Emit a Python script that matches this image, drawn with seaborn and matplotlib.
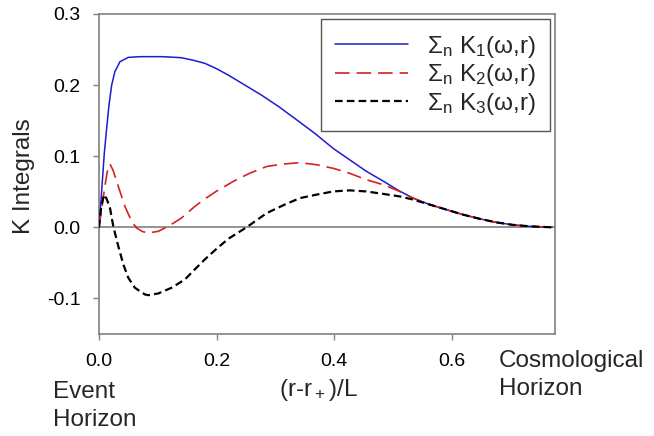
import matplotlib
matplotlib.use("Agg")
import matplotlib.pyplot as plt
import seaborn as sns

# Radial coordinate (r - r+)/L and the summed K integrals
k1_x = [0, 0.004, 0.009, 0.013, 0.017, 0.0215, 0.027, 0.0357, 0.0498, 0.07, 0.09,
        0.106, 0.12, 0.14, 0.16, 0.18, 0.2, 0.22, 0.25, 0.276, 0.305, 0.333, 0.367,
        0.398, 0.426, 0.454, 0.483, 0.511, 0.534, 0.562, 0.59, 0.618, 0.647, 0.675,
        0.703, 0.732, 0.77]
k1_y = [0, 0.045, 0.104, 0.139, 0.172, 0.200, 0.219, 0.233, 0.239, 0.240, 0.240,
        0.240, 0.2395, 0.2385, 0.235, 0.2306, 0.223, 0.214, 0.199, 0.186, 0.170, 0.153,
        0.132, 0.111, 0.095, 0.079, 0.065, 0.051, 0.041, 0.032, 0.025, 0.018, 0.012,
        0.007, 0.0035, 0.0014, 0]

k2_x = [0, 0.005, 0.010, 0.014, 0.0187, 0.024, 0.0328, 0.044, 0.0555, 0.064, 0.074,
        0.084, 0.1007, 0.1177, 0.14, 0.163, 0.18, 0.2, 0.228, 0.256, 0.285, 0.313,
        0.341, 0.37, 0.398, 0.426, 0.454, 0.483, 0.511, 0.534, 0.562, 0.59, 0.618,
        0.647, 0.675, 0.703, 0.732, 0.77]
k2_y = [0, 0.028, 0.058, 0.078, 0.089, 0.080, 0.0575, 0.0295, 0.0084, -0.001, -0.006,
        -0.0079, -0.0056, 0.0014, 0.013, 0.0295, 0.040, 0.051, 0.0645, 0.076, 0.0856, 0.089,
        0.091, 0.088, 0.083, 0.076, 0.067, 0.060, 0.0505, 0.041, 0.032, 0.025, 0.018,
        0.012, 0.007, 0.0035, 0.0014, 0]

k3_x = [0, 0.004, 0.0085, 0.013, 0.0187, 0.0243, 0.0328, 0.0413, 0.0498, 0.061, 0.078,
        0.084, 0.1007, 0.1233, 0.146, 0.163, 0.18, 0.2, 0.22, 0.2507, 0.285, 0.313,
        0.341, 0.37, 0.398, 0.426, 0.454, 0.483, 0.511, 0.534, 0.562, 0.59, 0.618,
        0.647, 0.675, 0.703, 0.732, 0.77]
k3_y = [0, 0.030, 0.046, 0.040, 0.027, 0.0014, -0.0266, -0.052, -0.071, -0.085, -0.0944,
        -0.0954, -0.093, -0.085, -0.0733, -0.059, -0.045, -0.030, -0.016, 0, 0.020, 0.031,
        0.041, 0.046, 0.0505, 0.052, 0.0505, 0.047, 0.0435, 0.039, 0.032, 0.025, 0.018,
        0.012, 0.007, 0.0035, 0.0014, 0]

series_labels = ["Σ$_n$ K$_1$(ω,r)", "Σ$_n$ K$_2$(ω,r)", "Σ$_n$ K$_3$(ω,r)"]
x_ticks = [0.0, 0.2, 0.4, 0.6]
y_ticks = [-0.1, 0.0, 0.1, 0.2, 0.3]

sns.set_style("white")
plt.rcParams["font.family"] = ["Liberation Sans", "DejaVu Sans"]
plt.rcParams["mathtext.default"] = "regular"
plt.rcParams["axes.unicode_minus"] = False
plt.rcParams["lines.scale_dashes"] = False

W, H = 654, 436
fig = plt.figure(figsize=(W / 100, H / 100), dpi=100)
ax = fig.add_axes([99 / W, 102 / H, 456 / W, 320 / H])

gray = "#808080"
ax.axhline(0, color=gray, lw=1.2, zorder=1)

sns.lineplot(x=k1_x, y=k1_y, ax=ax, color="#1c1cd2", lw=1.1, sort=False,
             estimator=None, label=series_labels[0], zorder=3)
sns.lineplot(x=k2_x, y=k2_y, ax=ax, color="#d42222", lw=1.2, sort=False,
             estimator=None, label=series_labels[1], linestyle=(0, (10.5, 5.0)), zorder=3)
sns.lineplot(x=k3_x, y=k3_y, ax=ax, color="black", lw=1.6, sort=False,
             estimator=None, label=series_labels[2], linestyle=(0, (5.5, 3.0)), zorder=3)

ax.set_xlim(0, 0.775)
ax.set_ylim(-0.15, 0.3)
ax.set_xticks(x_ticks)
ax.set_yticks(y_ticks)
ax.set_xticklabels([f"{v:.1f}" for v in x_ticks])
ax.set_yticklabels([f"{v:.1f}" for v in y_ticks])
ax.set_xlabel("")
ax.set_ylabel("")

for s in ax.spines.values():
    s.set_visible(True)
    s.set_color(gray)
    s.set_linewidth(1.2)

ax.tick_params(axis="both", which="major", direction="out", length=4.5, width=1.0,
               color=gray, labelsize=14, labelcolor="black", pad=9,
               bottom=True, left=True, top=False, right=False)

leg = ax.legend(loc="upper right", bbox_to_anchor=(0.989, 0.984), borderaxespad=0,
                fontsize=17.5, handlelength=3.0, handletextpad=0.75, labelspacing=0.1,
                frameon=True, fancybox=False, edgecolor="#555555", borderpad=0.6,
                framealpha=1)
leg.get_frame().set_linewidth(1.0)

fs = 17.5
fig.text(319 / W, 1 - 396 / H, "(r-r$_+$)/L", ha="center", va="baseline", fontsize=fs)
fig.text(24 / W, 1 - 176.5 / H, "K Integrals", rotation=90, ha="center", va="center",
         fontsize=fs)
fig.text(53 / W, 1 - 398 / H, "Event", ha="left", va="baseline", fontsize=fs)
fig.text(53 / W, 1 - 426 / H, "Horizon", ha="left", va="baseline", fontsize=fs)
fig.text(499 / W, 1 - 367 / H, "Cosmological", ha="left", va="baseline", fontsize=fs)
fig.text(499 / W, 1 - 395 / H, "Horizon", ha="left", va="baseline", fontsize=fs)

fig.savefig("out.png", dpi=100)
